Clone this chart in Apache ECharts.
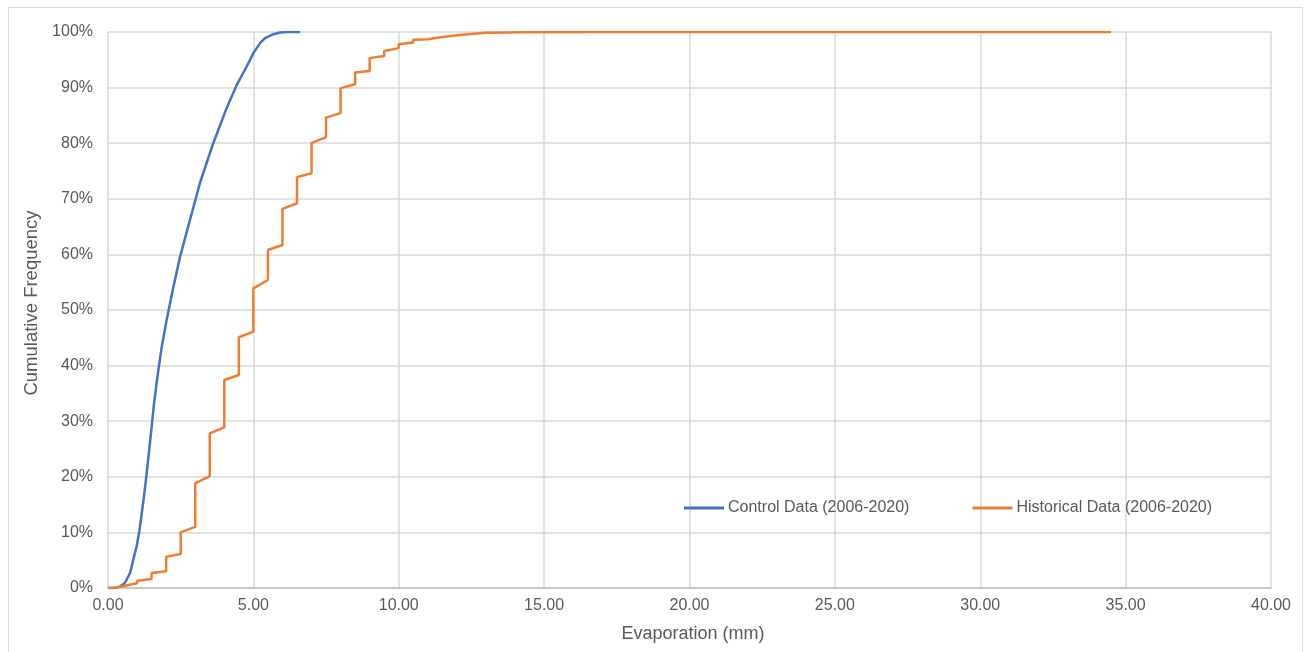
<!DOCTYPE html>
<html>
<head>
<meta charset="utf-8">
<title>Cumulative Frequency of Evaporation</title>
<script src="https://cdn.jsdelivr.net/npm/echarts@6/dist/echarts.min.js"></script>
<style>
  html, body { margin: 0; padding: 0; background: #ffffff; }
  #chart { width: 1304px; height: 652px; }
</style>
</head>
<body>
<div id="chart"></div>
<script>
// Control data: smooth empirical CDF (evaporation in mm, cumulative %)
const controlEvap = [0.00, 0.20, 0.41, 0.58, 0.76, 0.87, 0.99, 1.08, 1.16, 1.25, 1.33, 1.42, 1.50, 1.58, 1.67, 1.76, 1.85, 2.02, 2.25, 2.48, 2.82, 3.16, 3.62, 4.08, 4.43, 4.77, 5.00, 5.23, 5.40, 5.69, 5.92, 6.20, 6.60];
const controlCum  = [0.0, 0.0, 0.25, 0.9, 2.7, 5.1, 7.6, 10.3, 13.4, 17.0, 20.6, 25.0, 29.0, 33.0, 36.8, 40.2, 43.4, 48.3, 54.2, 59.6, 66.2, 72.8, 80.0, 86.3, 90.5, 93.8, 96.2, 98.0, 98.9, 99.6, 99.9, 100.0, 100.0];

// Historical data: stepped CDF (readings recorded in 0.5 mm increments)
const histEvap = [0.00, 0.18, 0.58, 1.00, 1.00, 1.50, 1.50, 2.00, 2.00, 2.50, 2.50, 3.00, 3.00, 3.50, 3.50, 4.00, 4.00, 4.50, 4.50, 5.00, 5.00, 5.50, 5.50, 6.00, 6.00, 6.50, 6.50, 7.00, 7.00, 7.50, 7.50, 8.00, 8.00, 8.50, 8.50, 9.00, 9.00, 9.50, 9.50, 10.00, 10.00, 10.50, 10.50, 11.00, 11.00, 11.50, 11.50, 12.00, 12.00, 12.50, 12.50, 13.00, 13.00, 14.30, 16.50, 34.50];
const histCum  = [0.0, 0.0, 0.4, 0.85, 1.3, 1.6, 2.7, 3.0, 5.6, 6.1, 10.0, 11.0, 18.8, 20.1, 27.8, 28.9, 37.4, 38.3, 45.1, 46.1, 53.9, 55.4, 60.8, 61.7, 68.2, 69.2, 73.9, 74.6, 80.0, 81.1, 84.6, 85.4, 89.9, 90.6, 92.7, 93.0, 95.3, 95.7, 96.6, 97.1, 97.8, 98.1, 98.6, 98.7, 98.95, 99.1, 99.3, 99.4, 99.6, 99.65, 99.8, 99.85, 99.9, 99.95, 100.0, 100.0];

const seriesNames = ['Control Data (2006-2020)', 'Historical Data (2006-2020)'];
const xTitle = 'Evaporation (mm)';
const yTitle = 'Cumulative Frequency';

const pairs = (xs, ys) => xs.map((x, i) => [x, ys[i]]);

const FONT = 'Liberation Sans';
const TEXT = '#595959';

const chart = echarts.init(document.getElementById('chart'), null, { renderer: 'canvas' });
chart.setOption({
  animation: false,
  backgroundColor: '#ffffff',
  textStyle: { fontFamily: FONT, color: TEXT },
  grid: { left: 108, right: 33, top: 32, bottom: 64, containLabel: false },
  graphic: [{
    type: 'rect',
    shape: { x: 8.5, y: 7.5, width: 1294, height: 700 },
    style: { fill: 'none', stroke: '#d9d9d9', lineWidth: 1 },
    silent: true
  }],
  legend: {
    left: 679,
    top: 495,
    itemWidth: 40,
    itemHeight: 3,
    itemGap: 63,
    icon: 'rect',
    textStyle: { fontFamily: FONT, fontSize: 16, color: TEXT, padding: [0, 0, 0, -1] },
    data: seriesNames
  },
  xAxis: {
    type: 'value',
    min: 0, max: 40, interval: 5,
    name: xTitle,
    nameLocation: 'middle',
    nameGap: 37,
    nameTextStyle: { fontFamily: FONT, fontSize: 18, color: TEXT, padding: [0, 0, 0, 7] },
    axisLine: { show: true, lineStyle: { color: '#bfbfbf', width: 1.5 } },
    axisTick: { show: false },
    axisLabel: { margin: 10, fontFamily: FONT, fontSize: 16, color: TEXT, formatter: v => v.toFixed(2) },
    splitLine: { show: true, lineStyle: { color: '#d9d9d9', width: 1.5 } }
  },
  yAxis: {
    type: 'value',
    min: 0, max: 100, interval: 10,
    name: yTitle,
    nameLocation: 'middle',
    nameGap: 57,
    nameTextStyle: { fontFamily: FONT, fontSize: 18.5, color: TEXT, padding: [0, 0, 0, 14] },
    axisLine: { show: false },
    axisTick: { show: false },
    axisLabel: { margin: 15, fontFamily: FONT, fontSize: 16, color: TEXT, formatter: v => v + '%' },
    splitLine: { show: true, lineStyle: { color: '#d9d9d9', width: 1.5 } }
  },
  series: [
    {
      name: seriesNames[0],
      type: 'line',
      data: pairs(controlEvap, controlCum),
      showSymbol: false,
      symbol: 'none',
      color: '#4472C4',
      lineStyle: { color: '#4472C4', width: 2.5 },
      z: 2
    },
    {
      name: seriesNames[1],
      type: 'line',
      data: pairs(histEvap, histCum),
      showSymbol: false,
      symbol: 'none',
      color: '#ED7D31',
      lineStyle: { color: '#ED7D31', width: 2.5 },
      z: 3
    }
  ]
});
</script>
</body>
</html>
